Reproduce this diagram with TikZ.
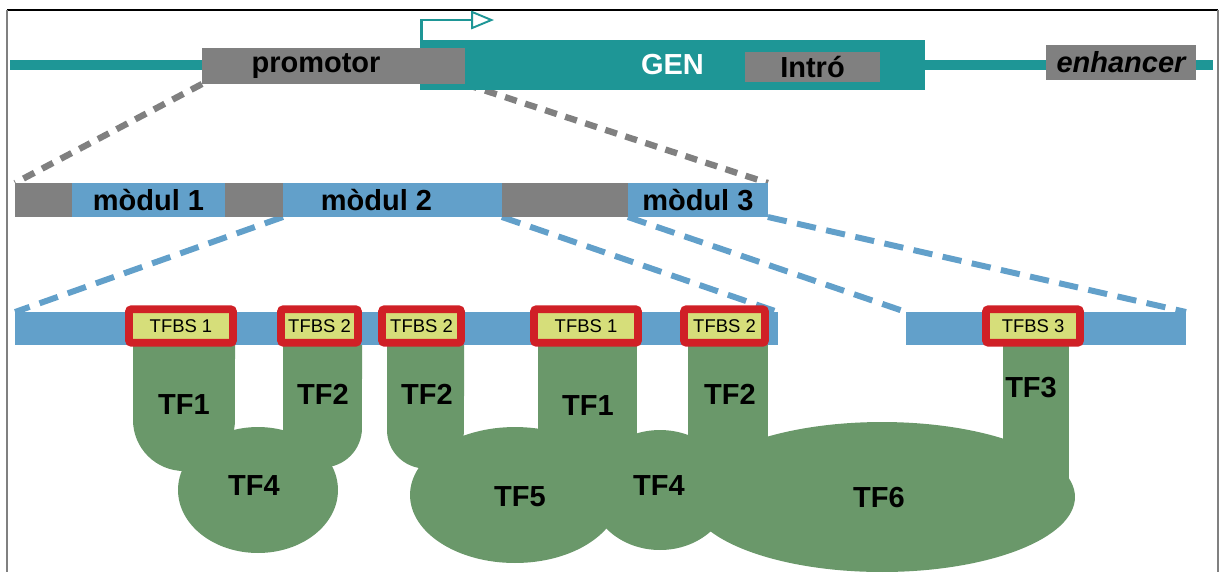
\documentclass[tikz,border=0pt]{standalone}
\usepackage{fontspec}
\newfontfamily\arialfont{Liberation Sans}
\usepackage{tikz}
\usetikzlibrary{arrows.meta, positioning, backgrounds}

\definecolor{genteal}{RGB}{30,150,150}
\definecolor{boxgray}{RGB}{128,128,128}
\definecolor{modblue}{RGB}{98,160,202}
\definecolor{tfgreen}{RGB}{106,152,106}
\definecolor{sitered}{RGB}{208,32,38}
\definecolor{siteyellow}{RGB}{214,222,122}

\tikzset{
    genemap/.style={x=0.02cm, y=-0.02cm},
    boldtext/.style={font=\arialfont\bfseries\fontsize{16.5}{18}\selectfont},
    dnaline/.style={draw=genteal, line width=5.7pt},
    genbox/.style={fill=genteal, inner sep=0pt, outer sep=0pt, boldtext, text=white},
    graybox/.style={fill=boxgray, inner sep=0pt, outer sep=0pt, boldtext},
    modbox/.style={fill=modblue, inner sep=0pt, outer sep=0pt, minimum height=0.68cm, boldtext},
    sitebar/.style={fill=modblue, inner sep=0pt, outer sep=0pt, minimum height=0.66cm},
    tfbs/.style={draw=sitered, line width=4.5pt, fill=siteyellow, rounded corners=1.5pt,
        minimum height=0.67cm, inner sep=0pt, font=\arialfont\fontsize{10.5}{12}\selectfont},
    tf/.style={fill=tfgreen},
    tflabel/.style={boldtext},
    tss/.style={draw=genteal, line width=1.7pt,
        -{Triangle[open, line width=1.1pt, length=13pt, width=10.5pt]}},
    zoomgray/.style={draw=boxgray, line width=3.6pt, dash pattern=on 7pt off 5pt},
    zoomblue/.style={draw=modblue, line width=3.4pt, dash pattern=on 11pt off 6pt},
}

\begin{document}
\begin{tikzpicture}[genemap]
    \useasboundingbox (0,0) rectangle (1222,572);

    % frame
    \draw[black, line width=0.6pt] (7,10) -- (1218,10);
    \draw[boxgray, line width=0.6pt] (7,10) -- (7,572);
    \draw[boxgray, line width=0.6pt] (1218,10) -- (1218,572);

    % chromosome
    \coordinate (dnaL) at (10,65);
    \coordinate (dnaR) at (1213,65);
    \draw[dnaline] (dnaL) -- (dnaR);

    \node[genbox, minimum width=10.1cm, minimum height=1cm] (gen) at (672.5,65) {GEN};
    \node[graybox, minimum width=5.26cm, minimum height=0.72cm,
          label={[boldtext, xshift=-0.35cm]center:promotor}] (prom) at (333.5,66) {};
    \node[graybox, minimum width=2.7cm, minimum height=0.6cm] (intro) at (812.5,67) {Intró};
    \node[graybox, minimum width=3cm, minimum height=0.7cm] (enh) at (1121,62.5) {\itshape enhancer};

    \coordinate (tsstip) at (494,20);
    \draw[tss] ([xshift=0.03cm]gen.north west) |- (tsstip);

    % regulatory modules
    \node[graybox, minimum width=1.14cm, minimum height=0.68cm] (g1) at (43.5,200) {};
    \node[modbox, minimum width=3.06cm, right=0pt of g1] (m1) {mòdul 1};
    \node[graybox, minimum width=1.16cm, minimum height=0.68cm, right=0pt of m1] (g2) {};
    \node[modbox, minimum width=4.38cm, right=0pt of g2,
          label={[boldtext, xshift=-0.32cm]center:mòdul 2}] (m2) {};
    \node[graybox, minimum width=2.52cm, minimum height=0.68cm, right=0pt of m2] (g3) {};
    \node[modbox, minimum width=2.8cm, right=0pt of g3] (m3) {mòdul 3};

    % transcription factors
    \fill[tf] (133,340) -- (133,420) arc[start angle=180, end angle=360, radius=1.02cm] -- (235,340) -- cycle;
    \fill[tf] (283,340) -- (283,428) arc[start angle=180, end angle=360, radius=0.79cm] -- (362,340) -- cycle;
    \fill[tf] (258,490) ellipse[x radius=1.6cm, y radius=1.26cm];

    \fill[tf] (387,340) -- (387,430) arc[start angle=180, end angle=360, radius=0.77cm] -- (464,340) -- cycle;
    \fill[tf] (538,340) rectangle (637,470);
    \fill[tf] (688,340) rectangle (768,470);
    \fill[tf] (1003,340) rectangle (1069,480);
    \fill[tf] (515,495) ellipse[x radius=2.1cm, y radius=1.36cm];
    \fill[tf] (660,490) ellipse[x radius=1.4cm, y radius=1.2cm];
    \fill[tf] (882,497) ellipse[x radius=3.86cm, y radius=1.5cm];

    \node[tflabel] (tf1a) at (184,405) {TF1};
    \node[tflabel] (tf2a) at (323,394) {TF2};
    \node[tflabel] (tf4a) at (254,486) {TF4};
    \node[tflabel] (tf2b) at (427,394) {TF2};
    \node[tflabel] (tf1b) at (588,406) {TF1};
    \node[tflabel] (tf2c) at (730,394) {TF2};
    \node[tflabel] (tf5)  at (520,497) {TF5};
    \node[tflabel] (tf4b) at (659,486) {TF4};
    \node[tflabel] (tf6)  at (879,498) {TF6};
    \node[tflabel] (tf3)  at (1031,388) {TF3};

    % binding sites
    \node[sitebar, minimum width=15.26cm] (dna1) at (396.5,328.5) {};
    \node[sitebar, minimum width=5.6cm] (dna2) at (1046,328.5) {};

    \node[tfbs, minimum width=2.08cm] (s1) at (181,326)   {TFBS 1};
    \node[tfbs, minimum width=1.54cm] (s2) at (319.5,326) {TFBS 2};
    \node[tfbs, minimum width=1.58cm] (s3) at (421.5,326) {TFBS 2};
    \node[tfbs, minimum width=2.08cm] (s4) at (586,326)   {TFBS 1};
    \node[tfbs, minimum width=1.62cm] (s5) at (724.5,326) {TFBS 2};
    \node[tfbs, minimum width=1.88cm] (s6) at (1033,326)  {TFBS 3};

    % zoom lines
    \begin{scope}[on background layer]
        \draw[zoomgray] (prom.south west) -- (g1.north west);
        \draw[zoomgray] (prom.south east) -- (m3.north east);
        \draw[zoomblue] (m2.south west) -- (dna1.north west);
        \draw[zoomblue] (m2.south east) -- (dna1.north east);
        \draw[zoomblue] (m3.south west) -- (dna2.north west);
        \draw[zoomblue] (m3.south east) -- (dna2.north east);
    \end{scope}
\end{tikzpicture}
\end{document}
